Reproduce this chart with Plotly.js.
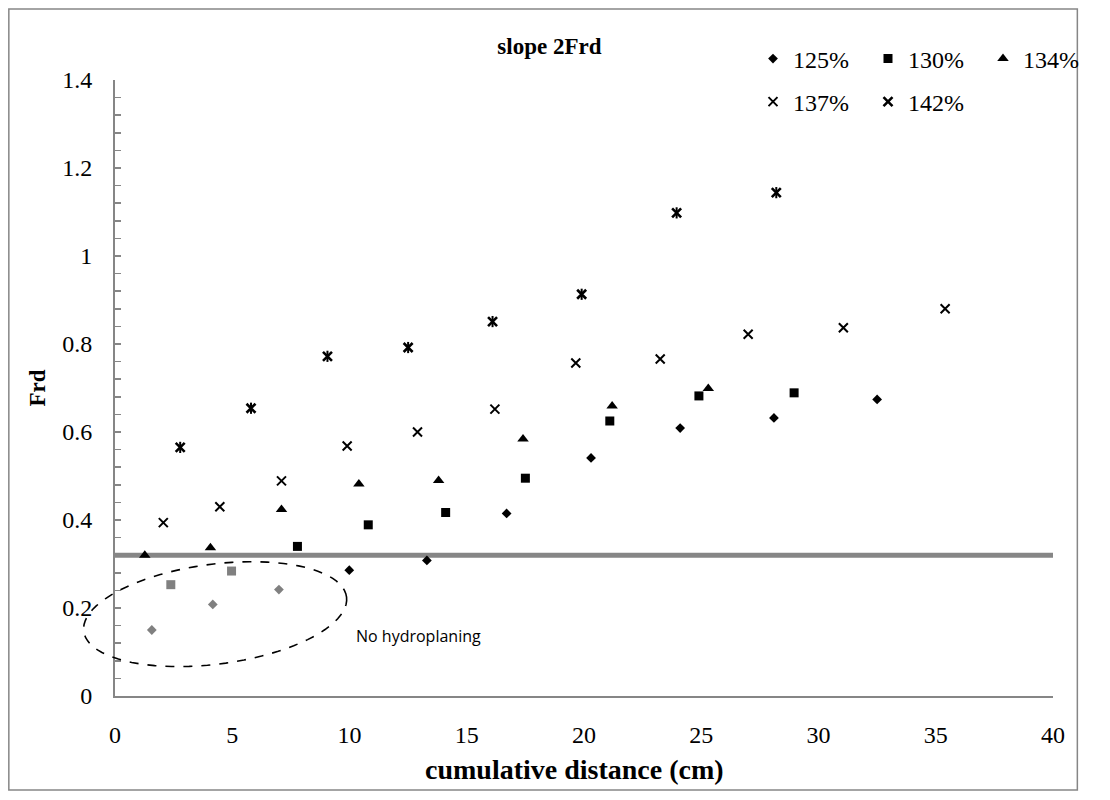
<!DOCTYPE html>
<html>
<head>
<meta charset="utf-8">
<script src="https://cdn.plot.ly/plotly-3.0.1.min.js"></script>
<style>
  html, body { margin: 0; padding: 0; background: #ffffff; }
  #chart { width: 1110px; height: 800px; }
</style>
</head>
<body>
<div id="chart"></div>
<script>
// ---- Data ----
const x125 = [9.99, 13.3, 16.7, 20.3, 24.1, 28.1, 32.5];
const y125 = [0.286, 0.308, 0.415, 0.541, 0.609, 0.632, 0.674];
const x125NoHydro = [1.57, 4.17, 6.99];
const y125NoHydro = [0.150, 0.208, 0.242];

const x130 = [7.78, 10.8, 14.1, 17.5, 21.1, 24.9, 28.96];
const y130 = [0.340, 0.389, 0.417, 0.495, 0.625, 0.682, 0.689];
const x130NoHydro = [2.38, 4.97];
const y130NoHydro = [0.253, 0.284];

const x134 = [1.27, 4.07, 7.1, 10.4, 13.8, 17.4, 21.2, 25.3];
const y134 = [0.320, 0.337, 0.424, 0.482, 0.490, 0.584, 0.659, 0.699];

const x137 = [2.06, 4.47, 7.1, 9.9, 12.9, 16.2, 19.65, 23.25, 27.0, 31.06, 35.4];
const y137 = [0.394, 0.430, 0.489, 0.568, 0.600, 0.652, 0.757, 0.766, 0.822, 0.837, 0.880];

const x142 = [2.78, 5.8, 9.06, 12.5, 16.1, 19.9, 23.95, 28.2];
const y142 = [0.565, 0.654, 0.772, 0.792, 0.851, 0.913, 1.098, 1.144];

const seriesNames = ['125%', '130%', '134%', '137%', '142%'];
const thresholdFrd = 0.32;
const chartTitle = 'slope 2Frd';
const xTitle = 'cumulative distance (cm)';
const yTitle = 'Frd';
const noteText = 'No hydroplaning';

// ---- Layout geometry ----
const W = 1110, H = 800;
const M = {l: 115, r: 32, t: 80, b: 104};
const PW = W - M.l - M.r, PH = H - M.t - M.b;
const xRange = [0, 40], yRange = [0, 1.4];
const paperX = px => (px - M.l) / PW;
const paperY = py => (H - M.b - py) / PH;
const dataToPaperX = v => (v - xRange[0]) / (xRange[1] - xRange[0]);
const dataToPaperY = v => (v - yRange[0]) / (yRange[1] - yRange[0]);

const serif = 'Liberation Serif, Times New Roman, serif';
const gray = '#868686';
const ptGray = '#808080';

// tilted dashed ellipse around the "no hydroplaning" points (paper-referenced so it is not clipped)
function ellipsePath(cxData, cyData, aPx, bPx, angDeg) {
  const th = angDeg * Math.PI / 180;
  const cx = dataToPaperX(cxData), cy = dataToPaperY(cyData);
  let d = '';
  for (let i = 0; i <= 90; i++) {
    const t = 2 * Math.PI * i / 90;
    const dx = aPx * Math.cos(t) * Math.cos(th) - bPx * Math.sin(t) * Math.sin(th);
    const dy = aPx * Math.cos(t) * Math.sin(th) + bPx * Math.sin(t) * Math.cos(th);
    const X = cx + dx / PW, Y = cy + dy / PH;
    d += (i === 0 ? 'M' : 'L') + X.toFixed(5) + ',' + Y.toFixed(5);
  }
  return d + 'Z';
}

const mk = (sym, size, color, lw) => ({symbol: sym, size: size, color: color, line: {color: color, width: lw || 0}});

const traces = [
  {x: x125, y: y125, name: seriesNames[0], mode: 'markers', type: 'scatter', legend: 'legend', marker: mk('diamond', 7.5, '#000')},
  {x: x130, y: y130, name: seriesNames[1], mode: 'markers', type: 'scatter', legend: 'legend', marker: mk('square', 9, '#000')},
  {x: x134, y: y134, name: seriesNames[2], mode: 'markers', type: 'scatter', legend: 'legend', marker: mk('triangle-up', 10, '#000')},
  {x: x137, y: y137, name: seriesNames[3], mode: 'markers', type: 'scatter', legend: 'legend2', marker: mk('x-thin-open', 9, '#000', 2)},
  {x: x142, y: y142, name: seriesNames[4], mode: 'markers', type: 'scatter', legend: 'legend2', marker: mk('x-thin-open', 9, '#000', 2.6)},
  {x: x142, y: y142, name: seriesNames[4], mode: 'markers', type: 'scatter', showlegend: false, marker: mk('line-ns-open', 8, '#000', 2)},
  {x: x125NoHydro, y: y125NoHydro, name: seriesNames[0], mode: 'markers', type: 'scatter', showlegend: false, marker: mk('diamond', 7.5, ptGray)},
  {x: x130NoHydro, y: y130NoHydro, name: seriesNames[1], mode: 'markers', type: 'scatter', showlegend: false, marker: mk('square', 9, ptGray)}
];

const legendCommon = {
  orientation: 'h', xref: 'paper', yref: 'paper', xanchor: 'left', yanchor: 'middle',
  font: {family: serif, size: 24, color: '#000'}, bgcolor: 'rgba(0,0,0,0)',
  entrywidth: 70, entrywidthmode: 'pixels', itemwidth: 30, traceorder: 'normal'
};

const layout = {
  width: W, height: H,
  margin: M,
  paper_bgcolor: '#ffffff', plot_bgcolor: '#ffffff',
  showlegend: true,
  title: {
    text: '<b>' + chartTitle + '</b>',
    font: {family: serif, size: 23, color: '#000'},
    x: paperX(561), xref: 'paper', xanchor: 'center',
    y: 1 - 46 / H, yref: 'container', yanchor: 'middle'
  },
  legend: Object.assign({}, legendCommon, {x: paperX(770), y: paperY(59)}),
  legend2: Object.assign({}, legendCommon, {x: paperX(770), y: paperY(102)}),
  xaxis: {
    range: xRange, dtick: 5, tick0: 0,
    showgrid: false, zeroline: false,
    showline: true, linecolor: gray, linewidth: 2,
    ticks: '', ticklabelstandoff: 16,
    tickfont: {family: serif, size: 24, color: '#000'}
  },
  yaxis: {
    range: yRange, dtick: 0.2, tick0: 0,
    showgrid: false, zeroline: false,
    showline: true, linecolor: gray, linewidth: 2,
    ticks: 'inside', ticklen: 6, tickwidth: 1.5, tickcolor: gray,
    minor: {dtick: 0.04, ticks: 'inside', ticklen: 6, tickwidth: 1.5, tickcolor: gray, showgrid: false},
    ticklabelstandoff: 16,
    tickfont: {family: serif, size: 24, color: '#000'},
    title: {text: '<b>' + yTitle + '</b>', font: {family: serif, size: 23, color: '#000'}, standoff: 10}
  },
  shapes: [
    {type: 'line', xref: 'x', yref: 'y', x0: xRange[0], x1: xRange[1], y0: thresholdFrd, y1: thresholdFrd,
     line: {color: gray, width: 5}, layer: 'below'},
    {type: 'path', xref: 'paper', yref: 'paper', path: ellipsePath(4.27, 0.186, 136, 50, 7.2),
     line: {color: '#000', width: 1.6, dash: 'dash'}, fillcolor: 'rgba(0,0,0,0)'},
    {type: 'rect', xref: 'paper', yref: 'paper', x0: paperX(6), x1: paperX(1103), y0: paperY(790), y1: paperY(9),
     line: {color: gray, width: 1.5}, fillcolor: 'rgba(0,0,0,0)'}
  ],
  annotations: [
    {text: noteText, xref: 'x', yref: 'y', x: 10.2, y: 0.136, xanchor: 'left', yanchor: 'middle',
     showarrow: false, font: {family: 'Open Sans, Liberation Sans, sans-serif', size: 16, color: '#000'}},
    {text: '<b>' + xTitle + '</b>', xref: 'paper', yref: 'paper', x: 0.49, y: paperY(769),
     xanchor: 'center', yanchor: 'middle', showarrow: false,
     font: {family: serif, size: 28, color: '#000'}}
  ]
};

Plotly.newPlot('chart', traces, layout, {displayModeBar: false, staticPlot: true});
</script>
</body>
</html>
